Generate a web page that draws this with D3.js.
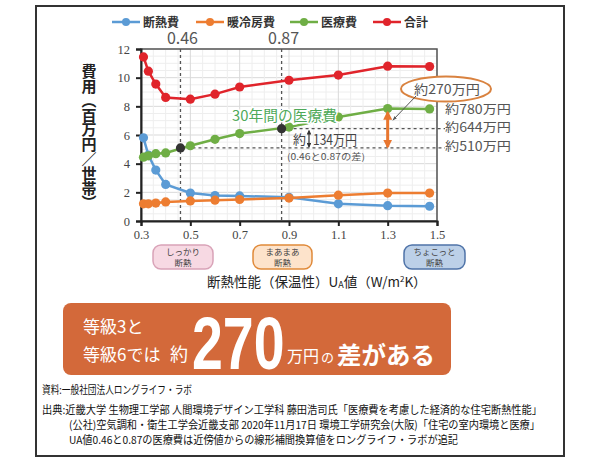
<!DOCTYPE html>
<html>
<head>
<meta charset="utf-8">
<script src="https://cdn.jsdelivr.net/npm/d3@7"></script>
<style>
  body { margin: 0; background: #fff; }
  text { font-family: "Noto Sans CJK JP", "Noto Sans", sans-serif; }
</style>
</head>
<body>
<div id="chart"></div>
<script>
// data
var uaValues    = [0.31, 0.33, 0.36, 0.40, 0.50, 0.60, 0.70, 0.90, 1.10, 1.30, 1.47];
var insulation  = [5.8, 4.6, 3.55, 2.55, 1.95, 1.78, 1.75, 1.65, 1.2, 1.07, 1.03];
var heating     = [1.2, 1.2, 1.25, 1.33, 1.4, 1.45, 1.5, 1.6, 1.8, 1.95, 1.95];
var medical     = [4.45, 4.55, 4.7, 4.75, 5.25, 5.7, 6.1, 6.55, 7.25, 7.85, 7.82];
var total       = [11.45, 10.45, 9.55, 8.62, 8.5, 8.85, 9.35, 9.82, 10.18, 10.8, 10.78];
var markUA      = [0.46, 0.87];
var markMedical = [5.1, 6.44];
var xTicks = [0.3, 0.5, 0.7, 0.9, 1.1, 1.3, 1.5];
var yTicks = [0, 2, 4, 6, 8, 10, 12];

var series = [
  {name: "断熱費", values: insulation, color: "#5b9bd5"},
  {name: "暖冷房費", values: heating, color: "#ed7d31"},
  {name: "医療費", values: medical, color: "#6fae45"},
  {name: "合計", values: total, color: "#e0242b"}
];

var svgWidth = 599;
var svgHeight = 463;

var svg = d3.select("#chart")
  .append("svg")
  .attr("width", svgWidth)
  .attr("height", svgHeight);

// outer frame
svg.append("rect")
  .attr("x", 36).attr("y", 6)
  .attr("width", 528).attr("height", 450)
  .attr("fill", "#fff")
  .attr("stroke", "#333")
  .attr("stroke-width", 2);

var xScale = d3.scaleLinear().domain([0.3, 1.5]).range([141, 437]);
var yScale = d3.scaleLinear().domain([0, 12]).range([221, 49]);

// grid
var grid = svg.append("g");
d3.range(0, 12.01, 0.5).forEach(function(v) {
  grid.append("line")
    .attr("x1", xScale(0.3)).attr("x2", xScale(1.5))
    .attr("y1", yScale(v)).attr("y2", yScale(v))
    .attr("stroke", v % 2 === 0 ? "#d9d9d9" : "#eeeeee")
    .attr("stroke-width", 1);
});
d3.range(0.3, 1.501, 0.05).forEach(function(v) {
  var major = Math.abs((v - 0.3) / 0.2 - Math.round((v - 0.3) / 0.2)) < 0.01;
  grid.append("line")
    .attr("x1", xScale(v)).attr("x2", xScale(v))
    .attr("y1", yScale(0)).attr("y2", yScale(12))
    .attr("stroke", major ? "#d9d9d9" : "#eeeeee")
    .attr("stroke-width", 1);
});

// plot box top/right
svg.append("rect")
  .attr("x", xScale(0.3)).attr("y", yScale(12))
  .attr("width", xScale(1.5) - xScale(0.3))
  .attr("height", yScale(0) - yScale(12))
  .attr("fill", "none")
  .attr("stroke", "#555")
  .attr("stroke-width", 1.5);

// axes
var leftAxis = d3.axisLeft(yScale).tickValues(yTicks).tickSize(5).tickPadding(6);
var bottomAxis = d3.axisBottom(xScale).tickValues(xTicks).tickFormat(d3.format(".1f")).tickSize(5).tickPadding(4);

var gy = svg.append("g")
  .attr("transform", "translate(" + xScale(0.3) + ",0)")
  .call(leftAxis);
var gx = svg.append("g")
  .attr("transform", "translate(0," + yScale(0) + ")")
  .call(bottomAxis);
[gx, gy].forEach(function(g) {
  g.selectAll("path, line").attr("stroke", "#222").attr("stroke-width", 2);
  g.selectAll("text")
    .style("font-family", "'Liberation Serif', serif")
    .attr("font-size", 12.5)
    .attr("fill", "#444");
});

// vertical dashed lines at 0.46 / 0.87
markUA.forEach(function(u) {
  svg.append("line")
    .attr("x1", xScale(u)).attr("x2", xScale(u))
    .attr("y1", yScale(12)).attr("y2", yScale(0))
    .attr("stroke", "#555")
    .attr("stroke-width", 1.3)
    .attr("stroke-dasharray", "3,3");
  svg.append("text")
    .attr("x", xScale(u) + 2).attr("y", 44)
    .attr("text-anchor", "middle")
    .attr("font-size", 16)
    .attr("fill", "#555")
    .text(d3.format(".2f")(u));
});

// horizontal dashed lines (510 / 644)
markUA.forEach(function(u, i) {
  svg.append("line")
    .attr("x1", xScale(u)).attr("x2", 445)
    .attr("y1", yScale(markMedical[i])).attr("y2", yScale(markMedical[i]))
    .attr("stroke", "#555")
    .attr("stroke-width", 1.2)
    .attr("stroke-dasharray", "3,3");
});

// lines and points
var line = d3.line()
  .x(function(d) { return xScale(d.x); })
  .y(function(d) { return yScale(d.y); });

series.forEach(function(s) {
  var pts = uaValues.map(function(u, i) { return {x: u, y: s.values[i]}; });
  svg.append("path")
    .datum(pts)
    .attr("d", line)
    .attr("fill", "none")
    .attr("stroke", s.color)
    .attr("stroke-width", 2.5);
  svg.append("g").selectAll("circle")
    .data(pts).enter()
    .append("circle")
    .attr("cx", function(d) { return xScale(d.x); })
    .attr("cy", function(d) { return yScale(d.y); })
    .attr("r", 4.6)
    .attr("fill", s.color);
});

svg.append("g").selectAll("circle")
  .data(markUA).enter()
  .append("circle")
  .attr("cx", function(d) { return xScale(d); })
  .attr("cy", function(d, i) { return yScale(markMedical[i]); })
  .attr("r", 4.6)
  .attr("fill", "#333");

// legend
var legend = svg.append("g");
var legendX = [112, 196, 290, 373];
series.forEach(function(s, i) {
  var lx = legendX[i];
  legend.append("line")
    .attr("x1", lx).attr("x2", lx + 28)
    .attr("y1", 22).attr("y2", 22)
    .attr("stroke", s.color).attr("stroke-width", 2.5);
  legend.append("circle")
    .attr("cx", lx + 14).attr("cy", 22).attr("r", 4)
    .attr("fill", s.color);
  legend.append("text")
    .attr("x", lx + 31).attr("y", 27)
    .attr("font-size", 12)
    .attr("font-weight", "bold")
    .attr("fill", "#333")
    .text(s.name);
});

// y axis title (vertical)
svg.append("text")
  .attr("x", 89).attr("y", 64)
  .attr("font-size", 15)
  .attr("font-weight", "bold")
  .attr("fill", "#222")
  .style("writing-mode", "vertical-rl")
  .attr("textLength", 146)
  .attr("lengthAdjust", "spacing")
  .text("費用（百万円／世帯）");

// annotations
svg.append("text")
  .attr("x", 232).attr("y", 121)
  .attr("font-size", 14.5)
  .attr("fill", "#4fa95a")
  .attr("stroke", "#fff").attr("stroke-width", 3).attr("paint-order", "stroke")
  .attr("textLength", 105)
  .attr("lengthAdjust", "spacingAndGlyphs")
  .text("30年間の医療費");

var rightLabels = [
  {t: "約780万円", y: 114},
  {t: "約644万円", y: 132},
  {t: "約510万円", y: 151}
];
svg.append("g").selectAll("text")
  .data(rightLabels).enter()
  .append("text")
  .attr("x", 445).attr("y", function(d) { return d.y; })
  .attr("font-size", 12.5)
  .attr("fill", "#555")
  .attr("textLength", 66)
  .attr("lengthAdjust", "spacingAndGlyphs")
  .text(function(d) { return d.t; });

svg.append("ellipse")
  .attr("cx", 446).attr("cy", 89)
  .attr("rx", 45).attr("ry", 12.5)
  .attr("fill", "#fff")
  .attr("stroke", "#d9823f")
  .attr("stroke-width", 2);
svg.append("text")
  .attr("x", 414).attr("y", 94)
  .attr("font-size", 13)
  .attr("fill", "#555")
  .attr("textLength", 66)
  .attr("lengthAdjust", "spacingAndGlyphs")
  .text("約270万円");

svg.append("defs").html(
  '<marker id="ao" viewBox="0 0 10 10" refX="8" refY="5" markerWidth="3" markerHeight="3" orient="auto-start-reverse"><path d="M0,0L10,5L0,10z" fill="#e8762f"/></marker>' +
  '<marker id="ab" viewBox="0 0 10 10" refX="8" refY="5" markerWidth="4" markerHeight="4" orient="auto-start-reverse"><path d="M0,0L10,5L0,10z" fill="#333"/></marker>' +
  '<marker id="ag" viewBox="0 0 10 10" refX="8" refY="5" markerWidth="5" markerHeight="5" orient="auto"><path d="M0,2L10,5L0,8z" fill="#555"/></marker>'
);

// orange difference arrow at UA 1.3
svg.append("line")
  .attr("x1", xScale(1.3)).attr("x2", xScale(1.3))
  .attr("y1", yScale(medical[9]) + 4).attr("y2", yScale(markMedical[0]) - 1)
  .attr("stroke", "#e8762f").attr("stroke-width", 3)
  .attr("marker-start", "url(#ao)")
  .attr("marker-end", "url(#ao)");

svg.append("line")
  .attr("x1", 416).attr("x2", 393)
  .attr("y1", 96).attr("y2", 120)
  .attr("stroke", "#555").attr("stroke-width", 1)
  .attr("marker-end", "url(#ag)");

// 134 annotation
svg.append("text")
  .attr("x", 293).attr("y", 144)
  .attr("font-size", 13)
  .attr("fill", "#444")
  .text("約");
svg.append("line")
  .attr("x1", 309).attr("x2", 309)
  .attr("y1", yScale(markMedical[1]) + 2).attr("y2", yScale(markMedical[0]) - 1)
  .attr("stroke", "#333").attr("stroke-width", 1.2)
  .attr("marker-start", "url(#ab)")
  .attr("marker-end", "url(#ab)");
svg.append("text")
  .attr("x", 313).attr("y", 145)
  .attr("font-size", 14)
  .attr("fill", "#444")
  .attr("textLength", 44)
  .attr("lengthAdjust", "spacingAndGlyphs")
  .text("134万円");
svg.append("text")
  .attr("x", 287).attr("y", 160)
  .attr("font-size", 9)
  .attr("fill", "#555")
  .attr("textLength", 78)
  .attr("lengthAdjust", "spacingAndGlyphs")
  .text("(0.46と0.87の差)");

// level badges under the x axis
var badges = [
  {x: 153, w: 60, l1: "しっかり", l2: "断熱", fill: "#f7d9e3", stroke: "#d9a3b8"},
  {x: 253, w: 59, l1: "まあまあ", l2: "断熱", fill: "#fde3cb", stroke: "#e08a3a"},
  {x: 404, w: 61, l1: "ちょこっと", l2: "断熱", fill: "#bcd0e8", stroke: "#4f73a8"}
];
badges.forEach(function(b) {
  svg.append("rect")
    .attr("x", b.x).attr("y", 245)
    .attr("width", b.w).attr("height", 24)
    .attr("rx", 8)
    .attr("fill", b.fill)
    .attr("stroke", b.stroke)
    .attr("stroke-width", 1.5);
  svg.append("text")
    .attr("x", b.x + b.w / 2).attr("y", 255)
    .attr("text-anchor", "middle")
    .attr("font-size", 8.5)
    .attr("fill", "#444")
    .text(b.l1);
  svg.append("text")
    .attr("x", b.x + b.w / 2).attr("y", 266)
    .attr("text-anchor", "middle")
    .attr("font-size", 8.5)
    .attr("fill", "#444")
    .text(b.l2);
});

// x axis title
var xTitle = svg.append("text")
  .attr("x", 207).attr("y", 287)
  .attr("font-size", 13.5)
  .attr("fill", "#222");
xTitle.append("tspan").text("断熱性能（保温性）U");
xTitle.append("tspan").attr("font-size", 9).attr("dy", 1).text("A");
xTitle.append("tspan").attr("dy", -1).text("値（W/m");
xTitle.append("tspan").attr("font-size", 8).attr("dy", -5).text("2");
xTitle.append("tspan").attr("dy", 5).text("K）");

// orange banner
svg.append("rect")
  .attr("x", 63).attr("y", 303)
  .attr("width", 388).attr("height", 72)
  .attr("rx", 8)
  .attr("fill", "#d3693a");
svg.append("text")
  .attr("x", 83).attr("y", 333)
  .attr("font-size", 17).attr("fill", "#fff")
  .text("等級3と");
svg.append("text")
  .attr("x", 83).attr("y", 361)
  .attr("font-size", 17).attr("fill", "#fff")
  .text("等級6では");
svg.append("text")
  .attr("x", 170).attr("y", 361)
  .attr("font-size", 18).attr("fill", "#fff")
  .text("約");
svg.append("g")
  .attr("transform", "translate(192,369) scale(0.75,1)")
  .append("text")
  .attr("x", 0).attr("y", 0)
  .attr("font-size", 74).attr("font-weight", "bold").attr("fill", "#fff")
  .style("font-family", "'Liberation Sans', Arial, sans-serif")
  .text("270");
svg.append("text")
  .attr("x", 287).attr("y", 362)
  .attr("font-size", 16).attr("fill", "#fff")
  .text("万円");
svg.append("text")
  .attr("x", 321).attr("y", 362)
  .attr("font-size", 13).attr("fill", "#fff")
  .text("の");
svg.append("text")
  .attr("x", 337).attr("y", 364)
  .attr("font-size", 24).attr("font-weight", "bold").attr("fill", "#fff")
  .attr("textLength", 98)
  .attr("lengthAdjust", "spacingAndGlyphs")
  .text("差がある");

// source notes
var notes = [
  {x: 42, y: 394, t: "資料:一般社団法人ロングライフ・ラボ", w: 150},
  {x: 42, y: 414, t: "出典:近畿大学 生物理工学部 人間環境デザイン工学科 藤田浩司氏「医療費を考慮した経済的な住宅断熱性能」", w: 500},
  {x: 69, y: 429, t: "(公社)空気調和・衛生工学会近畿支部 2020年11月17日 環境工学研究会(大阪)「住宅の室内環境と医療」", w: 471},
  {x: 69, y: 444, t: "UA値0.46と0.87の医療費は近傍値からの線形補間換算値をロングライフ・ラボが追記", w: 389}
];
svg.append("g").selectAll("text")
  .data(notes).enter()
  .append("text")
  .attr("x", function(d) { return d.x; })
  .attr("y", function(d) { return d.y; })
  .attr("font-size", 11)
  .attr("fill", "#111")
  .attr("textLength", function(d) { return d.w; })
  .attr("lengthAdjust", "spacingAndGlyphs")
  .text(function(d) { return d.t; });
</script>
</body>
</html>
